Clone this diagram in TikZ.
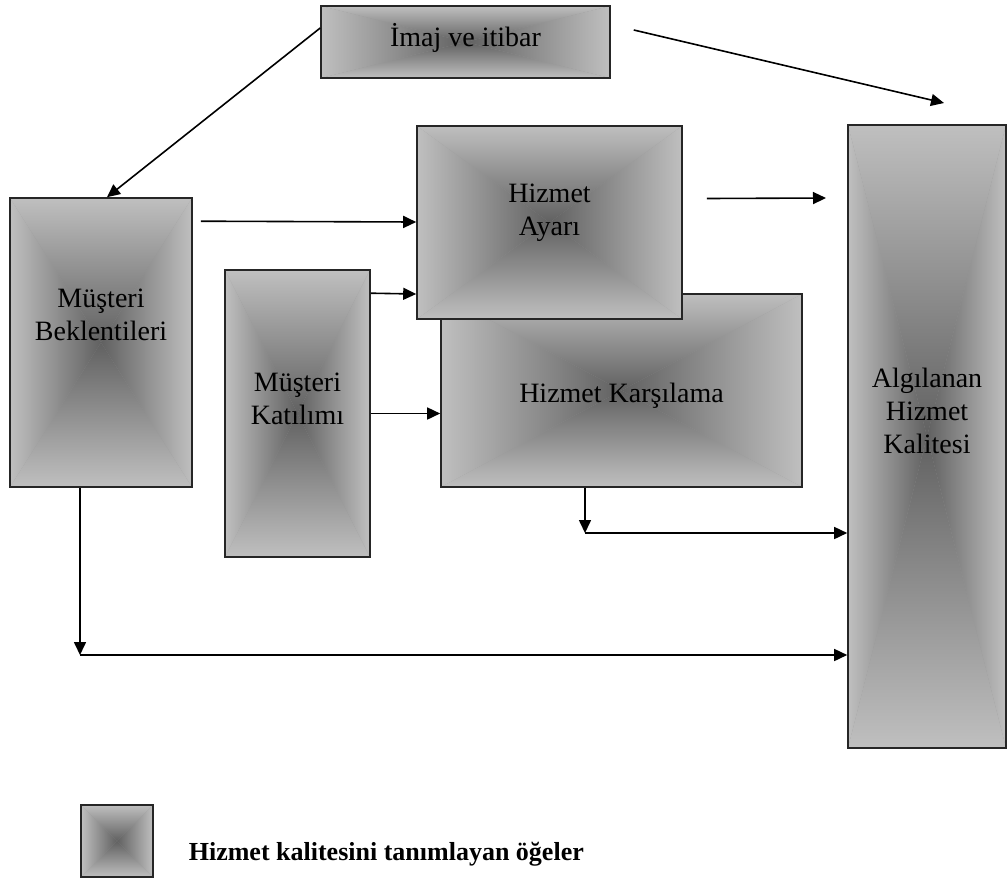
\documentclass[tikz,border=0pt]{standalone}
\usepackage{fontspec}
\setmainfont{Liberation Serif}
\usetikzlibrary{arrows.meta,calc}

\begin{document}
\begin{tikzpicture}[x=0.5pt, y=-0.5pt,
	%Option for arrows
	>={Triangle[length=6.5pt,width=6pt]}, %
	line width=0.8pt,%
	gbox/.style={draw=black!85, fill=black!40, inner sep=0pt,
		path picture={
			\coordinate (pc)  at (path picture bounding box.center);
			\coordinate (pnw) at (path picture bounding box.north west);
			\coordinate (pne) at (path picture bounding box.north east);
			\coordinate (psw) at (path picture bounding box.south west);
			\coordinate (pse) at (path picture bounding box.south east);
			\shade[top color=boxout, middle color=boxmid, bottom color=boxin] (pnw) -- (pne) -- (pc) -- cycle;
			\shade[top color=boxin, middle color=boxmid, bottom color=boxout] (psw) -- (pse) -- (pc) -- cycle;
			\shade[left color=boxout, middle color=boxmid, right color=boxin] (pnw) -- (psw) -- (pc) -- cycle;
			\shade[left color=boxin, middle color=boxmid, right color=boxout] (pne) -- (pse) -- (pc) -- cycle;
		}},
	lbl/.style={align=center, inner sep=0pt, font=\fontsize{14}{16.5}\selectfont},
	arr/.style={->},
	]
	% Colors
	\colorlet{boxout}{black!25}
	\colorlet{boxin}{black!62}
	\colorlet{boxmid}{boxout!65!boxin}
	
	% Frame
	\useasboundingbox (0,0) rectangle (1008,879);
	
	% Shaded boxes
	\node[gbox, minimum width=144.5pt, minimum height=36pt]    (ima) at (465.5,42)    {};
	\node[gbox, minimum width=91pt,    minimum height=144.5pt] (bek) at (101,342.5)  {};
	\node[gbox, minimum width=180.5pt, minimum height=96.5pt]  (kar) at (621.5,390.5) {};
	\node[gbox, minimum width=132.5pt, minimum height=96.5pt]  (aya) at (549.5,222.5) {};
	\node[gbox, minimum width=72.5pt,  minimum height=143.5pt] (kat) at (297.5,413.5) {};
	\node[gbox, minimum width=79pt,    minimum height=311.5pt] (alg) at (927,436.5)   {};
	
	% Texts
	\node[lbl] (imatxt) at ($(ima.center)+(0,-4)$)  {İmaj ve itibar};
	\node[lbl] (bektxt) at ($(bek.center)+(0,-28)$) {Müşteri\\Beklentileri};
	\node[lbl] (ayatxt) at ($(aya.center)+(0,-10)$) {Hizmet\\Ayarı};
	\node[lbl] (kartxt) at ($(kar.center)+(0,5)$)   {Hizmet Karşılama};
	\node[lbl] (kattxt) at ($(kat.center)+(0,-15)$) {Müşteri\\Katılımı};
	\node[lbl] (algtxt) at ($(alg.center)+(0,-26)$) {Algılanan\\Hizmet\\Kalitesi};
	
	% Free ends of connectors
	\coordinate (imaend)  at (944,103);
	\coordinate (ayaend)  at (826,198);
	\coordinate (karbend) at (585,533);
	\coordinate (bekbend) at (80,655);
	
	% Connectors
	\draw[arr] ($(ima.west)+(0,-14)$) -- ($(bek.north)+(6,0)$);
	\draw[arr] ($(ima.east)+(23,-12)$) -- (imaend);
	\draw[arr] ($(bek.north east)+(8,24)$) -- (aya.west |- 0,222);
	\draw[arr] ($(kat.north east)+(0,24)$) -- (aya.west |- 0,294);
	\draw[arr] (kat.east) -- (kar.west |- kat.east);
	\draw[arr] ($(aya.east)+(24,-24)$) -- (ayaend);
	\draw[arr] (kar.south -| karbend) -- (karbend);
	\draw[arr] (karbend) -- (alg.west |- karbend);
	\draw[arr] (bek.south -| bekbend) -- (bekbend);
	\draw[arr] (bekbend) -- (alg.west |- bekbend);
	
	% Legend
	\node[gbox, minimum width=36pt, minimum height=36pt] (leg) at (117,841) {};
	\node[anchor=base west, inner sep=0pt, font=\bfseries\fontsize{13}{15}\selectfont] (legtxt) at (188,860)
	{Hizmet kalitesini tanımlayan öğeler};
\end{tikzpicture}
\end{document}
